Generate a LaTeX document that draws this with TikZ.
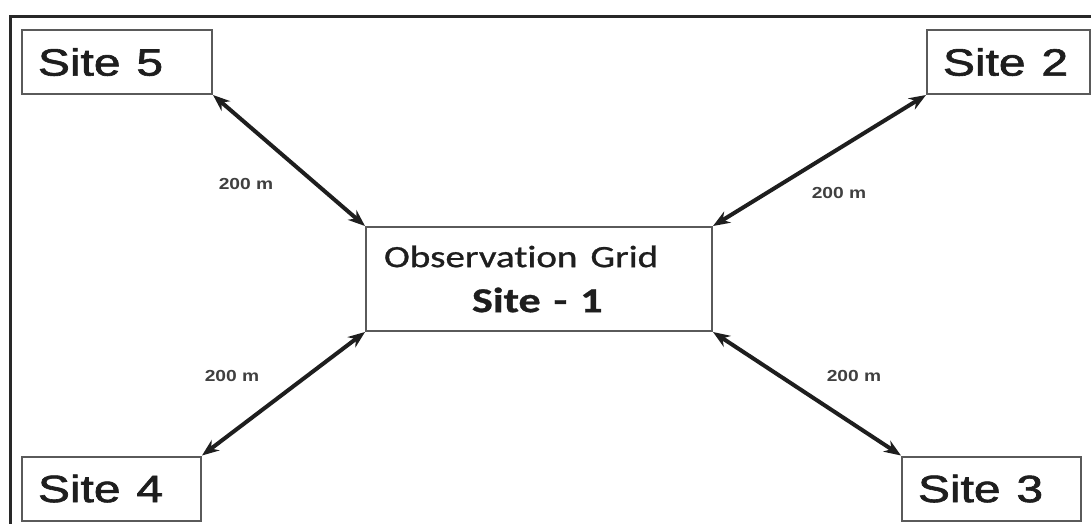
\documentclass[tikz,border=0pt]{standalone}
\usepackage{fontspec}
\setmainfont{Liberation Sans}
\newfontfamily\sitefont{Liberation Sans}[FakeBold=1.6]
\newfontfamily\gridfont{Carlito}[Ligatures=NoCommon, FakeBold=0.8]
\usepackage{graphicx}
\usetikzlibrary{arrows.meta, positioning}
\definecolor{mydark}{RGB}{30,30,30}
\definecolor{myframe}{RGB}{40,40,40}
\definecolor{mybox}{RGB}{90,90,90}
\newcommand{\wide}[2][1.26]{\scalebox{#1}[1]{#2}}
\tikzset{
  sitebox/.style={rectangle, draw=mybox, line width=2pt, align=left,
    inner xsep=16pt, inner ysep=0pt, minimum height=64pt,
    font=\sitefont\fontsize{38}{40}\selectfont, text=mydark},
  gridbox/.style={rectangle, draw=mybox, line width=2pt, align=left,
    inner xsep=17pt, inner ysep=0pt, minimum width=346pt, minimum height=104pt,
    text width=310pt, font=\gridfont\fontsize{31}{45}\selectfont, text=mydark},
  dist/.style={font=\bfseries\fontsize{16}{18}\selectfont, text=mydark!85},
  link/.style={{Stealth[length=17pt,width=13pt]}-{Stealth[length=17pt,width=13pt]},
    line width=4pt, color=mydark}
}

\begin{document}
\begin{tikzpicture}[x=1pt, y=-1pt]
  \clip (0,0) rectangle (1091,523);
  % outer frame (cut off at right and bottom)
  \draw[line width=3pt, myframe] (10,540) -- (10,16) -- (1100,16);

  % observation grid in the middle
  \node[gridbox] (obs) at (539,279) {\wide{Observation Grid}\\
    \hspace*{88pt}\wide{\fontsize{35}{45}\selectfont\bfseries Site - 1}};

  % sites in the corners
  \node[sitebox, text width=158pt] (s5) at (117,62) {\wide{Site 5}};
  \node[sitebox, text width=131pt] (s2) at (1008.5,62) {\wide{Site 2}};
  \node[sitebox, text width=147pt] (s4) at (111.5,488.5) {\wide{Site 4}};
  \node[sitebox, text width=147pt] (s3) at (991.5,488.5) {\wide{Site 3}};

  \draw[link] (s5.south east) -- (obs.north west);
  \draw[link] (s2.south west) -- (obs.north east);
  \draw[link] (s4.north east) -- (obs.south west);
  \draw[link] (s3.north west) -- (obs.south east);

  \node[dist] (d5) at (246,184) {\wide[1.2]{200 m}};
  \node[dist] (d2) at (839,193) {\wide[1.2]{200 m}};
  \node[dist] (d4) at (232,376) {\wide[1.2]{200 m}};
  \node[dist] (d3) at (854,376) {\wide[1.2]{200 m}};
\end{tikzpicture}
\end{document}
